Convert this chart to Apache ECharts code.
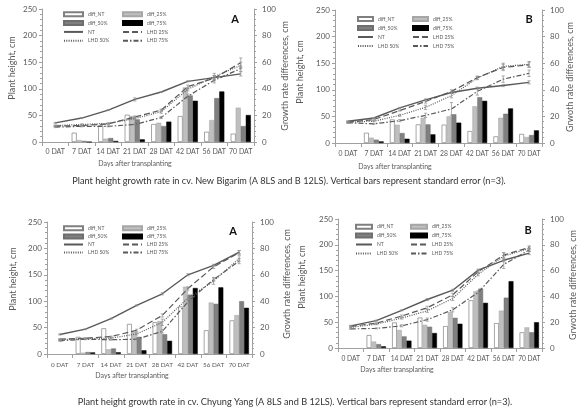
<!DOCTYPE html>
<html><head><meta charset="utf-8">
<script src="https://cdn.jsdelivr.net/npm/echarts@6/dist/echarts.min.js"></script>
<style>html,body{margin:0;padding:0;background:#fff}#c{width:580px;height:416px}</style>
</head><body><div id="c"></div>
<script>
// ---- data ----
const categories = ['0 DAT','7 DAT','14 DAT','21 DAT','28 DAT','42 DAT','56 DAT','70 DAT'];
const barNames = ['diff_NT','diff_25%','diff_50%','diff_75%'];
const lineNames = ['NT','LHD 25%','LHD 50%','LHD 75%'];
const leftTicks = [0,50,100,150,200,250];
const rightTicks = [0,20,40,60,80,100];

// New Bigarim, A (8LS)
const nbA_diffNT = [null, 7, 12.5, 20.5, 13.5, 19.5, 7.7, 6.3];
const nbA_diff25 = [null, 1.5, 2.5, 19.5, 14.5, 41, 16.5, 25.8];
const nbA_diff50 = [null, 0.8, 3, 17, 12, 35, 33, 12];
const nbA_diff75 = [null, 0, 0.8, 2, 15.3, 31, 38, 20.3];
const nbA_NT  = [36, 45, 60, 80, 94, 114, 121, 128];
const nbA_L25 = [30, 31, 34, 47, 60, 104, 120, 149];
const nbA_L50 = [31, 33, 35, 44, 57, 99, 123, 144];
const nbA_L75 = [28, 29.5, 29.5, 33, 46, 86, 116, 138];
// standard errors of the lines (plant height, cm)
const nbA_NT_se  = [1, 1, 1, 3, 1, 1, 3, 4];
const nbA_L25_se = [1, 1, 1, 2, 2, 3, 5, 9];
const nbA_L50_se = [1, 1, 1, 2, 3, 3, 6, 6];
const nbA_L75_se = [1, 1, 1, 1, 2, 4, 5, 5];

// New Bigarim, B (12LS)
const nbB_diffNT = [null, 7.7, 17.7, 14, 13.8, 9, 5, 6.8];
const nbB_diff25 = [null, 4, 13.7, 19, 20, 27.6, 19, 4.5];
const nbB_diff50 = [null, 2.5, 7.5, 14, 21.6, 34.4, 22, 6];
const nbB_diff75 = [null, 1.2, 3.2, 6.5, 15.3, 31.7, 26, 9.5];
const nbB_NT  = [41, 47, 66, 81, 95, 103, 108, 114];
const nbB_L25 = [39, 44, 61, 78, 97, 123, 142, 147];
const nbB_L50 = [39, 41, 52, 67, 89, 122, 144, 148];
const nbB_L75 = [38, 36, 42, 52, 64, 97, 120, 131];
const nbB_NT_se  = [1, 1, 1, 2, 2, 2, 2, 3];
const nbB_L25_se = [1, 1, 1, 3, 3, 3, 6, 5];
const nbB_L50_se = [1, 1, 2, 4, 4, 3, 6, 5];
const nbB_L75_se = [1, 1, 2, 4, 12, 7, 6, 6];

// Chyung Yang, A (8LS)
const cyA_diffNT = [null, 13, 19.5, 22.8, 24, 36, 18, 25.5];
const cyA_diff25 = [null, 1, 3.6, 17, 25, 51, 39, 29.5];
const cyA_diff50 = [null, 1.5, 4.2, 13, 15, 45, 38, 40];
const cyA_diff75 = [null, 1.2, 1.3, 2.8, 10, 50, 50.5, 35];
const cyA_NT  = [37, 47, 67, 92, 114, 150, 168, 193];
const cyA_L25 = [28, 30, 33, 45, 73, 124, 165, 192];
const cyA_L50 = [27, 29, 30, 38, 60, 106, 138, 181];
const cyA_L75 = [25, 28, 27, 28, 43, 99, 141, 176];
const cyA_NT_se  = [1, 1, 1, 1, 2, 2, 2, 3];
const cyA_L25_se = [1, 1, 1, 2, 3, 3, 3, 4];
const cyA_L50_se = [1, 1, 1, 2, 6, 4, 6, 5];
const cyA_L75_se = [1, 1, 1, 1, 3, 4, 4, 5];

// Chyung Yang, B (12LS)
const cyB_diffNT = [null, 10, 19.8, 23.6, 17, 37, 19.3, 12.2];
const cyB_diff25 = [null, 5, 14, 18, 27.9, 44, 29, 16];
const cyB_diff50 = [null, 3, 9, 16.5, 23.4, 46, 39, 12.2];
const cyB_diff75 = [null, 1.3, 5.7, 11.6, 18.8, 35, 51.8, 20];
const cyB_NT  = [43, 53, 73, 94, 112, 151, 170, 184];
const cyB_L25 = [42, 48, 62, 78, 103, 148, 180, 195];
const cyB_L50 = [40, 46, 58, 72, 96, 143, 178, 193];
const cyB_L75 = [37, 38, 43, 55, 74, 108, 162, 190];
const cyB_NT_se  = [1, 1, 1, 2, 2, 2, 3, 3];
const cyB_L25_se = [1, 1, 2, 3, 3, 3, 5, 3];
const cyB_L50_se = [1, 1, 2, 3, 4, 3, 6, 3];
const cyB_L75_se = [1, 1, 2, 3, 4, 3, 8, 3];

const captionTop = 'Plant height growth rate in cv. New Bigarim (A 8LS and B 12LS). Vertical bars represent standard error (n=3).';
const captionBottom = 'Plant height growth rate in cv. Chyung Yang (A 8LS and B 12LS). Vertical bars represent standard error (n=3).';

// ---- layout / style ----
const FONT = 'Lato, "Liberation Sans", sans-serif';
const GREY = '#595959';
const AXIS = '#a0a0a0';
const panels = [
  {letter:'A', rightTitle:'Growth rate differences, cm',
   grid:{left:42, top:9, width:212, height:133},
   bars:[nbA_diffNT,nbA_diff25,nbA_diff50,nbA_diff75], lines:[nbA_NT,nbA_L25,nbA_L50,nbA_L75],
   errs:[nbA_NT_se,nbA_L25_se,nbA_L50_se,nbA_L75_se],
   catFont:7, catMargin:6, letterPos:[235,19], ltitle:[12,68], rtitle:[285,76], xtitle:[135,164],
   leg:{x1:63, x2:122, top:11.3, pitch:8.8, iw:19}},
  {letter:'B', rightTitle:'Grwoth rate differences, cm',
   grid:{left:335, top:10, width:207, height:133},
   bars:[nbB_diffNT,nbB_diff25,nbB_diff50,nbB_diff75], lines:[nbB_NT,nbB_L25,nbB_L50,nbB_L75],
   errs:[nbB_NT_se,nbB_L25_se,nbB_L50_se,nbB_L75_se],
   catFont:6.8, catMargin:7, letterPos:[529,19], ltitle:[300,72], rtitle:[570,77], xtitle:[395,167],
   leg:{x1:357, x2:412, top:16, pitch:9, iw:15}},
  {letter:'A', rightTitle:'Growth rate differences, cm',
   grid:{left:47, top:222, width:205, height:132},
   bars:[cyA_diffNT,cyA_diff25,cyA_diff50,cyA_diff75], lines:[cyA_NT,cyA_L25,cyA_L50,cyA_L75],
   errs:[cyA_NT_se,cyA_L25_se,cyA_L50_se,cyA_L75_se],
   catFont:6.3, catMargin:8, letterPos:[233,231], ltitle:[13,279], rtitle:[287,284], xtitle:[132,376],
   leg:{x1:63, x2:122, top:225.3, pitch:8.1, iw:19}},
  {letter:'B', rightTitle:'Grwoth rate differences, cm',
   grid:{left:338, top:219, width:204, height:129},
   bars:[cyB_diffNT,cyB_diff25,cyB_diff50,cyB_diff75], lines:[cyB_NT,cyB_L25,cyB_L50,cyB_L75],
   errs:[cyB_NT_se,cyB_L25_se,cyB_L50_se,cyB_L75_se],
   catFont:6.6, catMargin:7, letterPos:[528,230], ltitle:[302,277], rtitle:[573,285], xtitle:[397,370],
   leg:{x1:355, x2:410, top:223.7, pitch:8.9, iw:16}}
];
const barStyles = [
  {color:'#ffffff', borderColor:'#7f7f7f', borderWidth:0.7},
  {color:'#bfbfbf', borderColor:'#a6a6a6', borderWidth:0.5},
  {color:'#808080', borderColor:'#6e6e6e', borderWidth:0.5},
  {color:'#000000', borderColor:'#000000', borderWidth:0.5}
];
const lineStyles = [
  {width:1.4, type:'solid'},
  {width:1.2, type:[6,3]},
  {width:1.2, type:[1,1.3]},
  {width:1.2, type:[5,2,1.5,2]}
];
const hiddenSymbol = {color:'rgba(0,0,0,0)', borderColor:'rgba(0,0,0,0)', borderWidth:0, opacity:0};

function renderErr(params, api) {
  const x = api.value(0), y = api.value(1), e = api.value(2);
  const hi = api.coord([x, y + e]), lo = api.coord([x, y - e]);
  const c = 1.6;
  const st = {stroke:'#8c8c8c', lineWidth:0.7, fill:null};
  return {type:'group', children:[
    {type:'line', shape:{x1:hi[0], y1:hi[1], x2:lo[0], y2:lo[1]}, style:st},
    {type:'line', shape:{x1:hi[0]-c, y1:hi[1], x2:hi[0]+c, y2:hi[1]}, style:st},
    {type:'line', shape:{x1:lo[0]-c, y1:lo[1], x2:lo[0]+c, y2:lo[1]}, style:st}
  ]};
}

const grid = [], xAxis = [], yAxis = [], series = [], legend = [], graphic = [];
panels.forEach((p, i) => {
  grid.push(Object.assign({outerBoundsMode:'none', containLabel:false}, p.grid));
  xAxis.push({
    type:'category', gridIndex:i, data:categories, boundaryGap:true,
    axisLine:{lineStyle:{color:AXIS, width:1}},
    axisTick:{show:true, length:4, lineStyle:{color:AXIS}},
    axisLabel:{fontSize:p.catFont, color:GREY, fontFamily:FONT, margin:p.catMargin, interval:0, hideOverlap:false}
  });
  yAxis.push({
    type:'value', gridIndex:i, min:leftTicks[0], max:leftTicks[leftTicks.length-1], interval:leftTicks[1]-leftTicks[0],
    position:'left',
    axisLine:{show:true, lineStyle:{color:AXIS}},
    axisTick:{show:true, length:3, lineStyle:{color:AXIS}},
    minorTick:{show:true, splitNumber:5, length:2, lineStyle:{color:AXIS}},
    splitLine:{show:false},
    axisLabel:{fontSize:8, color:GREY, fontFamily:FONT, margin:5}
  });
  yAxis.push({
    type:'value', gridIndex:i, min:rightTicks[0], max:rightTicks[rightTicks.length-1], interval:rightTicks[1]-rightTicks[0],
    position:'right',
    axisLine:{show:true, lineStyle:{color:AXIS}},
    axisTick:{show:true, length:3, lineStyle:{color:AXIS}},
    minorTick:{show:true, splitNumber:5, length:2, lineStyle:{color:AXIS}},
    splitLine:{show:false},
    axisLabel:{fontSize:8, color:GREY, fontFamily:FONT, margin:8}
  });
  p.bars.forEach((d, k) => {
    series.push({
      type:'bar', name:barNames[k], xAxisIndex:i, yAxisIndex:2*i+1, data:d,
      barGap:'0%', barCategoryGap:'24%', itemStyle:barStyles[k], z:2, silent:true
    });
  });
  p.lines.forEach((d, k) => {
    series.push({
      type:'line', name:lineNames[k], xAxisIndex:i, yAxisIndex:2*i, data:d,
      symbol:'none', lineStyle:Object.assign({color:GREY}, lineStyles[k]), itemStyle:{color:GREY}, z:3, silent:true
    });
    series.push({
      type:'custom', name:lineNames[k] + ' SE', xAxisIndex:i, yAxisIndex:2*i,
      data:d.map((v, j) => [j, v, p.errs[k][j]]), renderItem:renderErr, z:4, silent:true
    });
  });
  const L = p.leg, rowH = 6;
  const legBase = {orient:'vertical', itemWidth:L.iw, itemHeight:4, itemGap:L.pitch-rowH, padding:0, top:L.top,
    textStyle:{fontSize:5, lineHeight:rowH, color:GREY, fontFamily:FONT}, selectedMode:false};
  const lineItem = n => ({name:n, itemStyle:hiddenSymbol});
  legend.push(Object.assign({}, legBase, {left:L.x1, data:[{name:barNames[0],icon:'rect'},{name:barNames[2],icon:'rect'},lineItem(lineNames[0]),lineItem(lineNames[2])]}));
  legend.push(Object.assign({}, legBase, {left:L.x2, data:[{name:barNames[1],icon:'rect'},{name:barNames[3],icon:'rect'},lineItem(lineNames[1]),lineItem(lineNames[3])]}));

  graphic.push({type:'text', x:p.letterPos[0], y:p.letterPos[1],
    style:{text:p.letter, fill:'#111', font:'bold 11px '+FONT, textAlign:'center', textVerticalAlign:'middle', align:'center', verticalAlign:'middle'}});
  graphic.push({type:'text', x:p.ltitle[0], y:p.ltitle[1], rotation:Math.PI/2,
    style:{text:'Plant height, cm', fill:GREY, font:'9px '+FONT, textAlign:'center', textVerticalAlign:'middle', align:'center', verticalAlign:'middle'}});
  graphic.push({type:'text', x:p.rtitle[0], y:p.rtitle[1], rotation:Math.PI/2,
    style:{text:p.rightTitle, fill:GREY, font:'9px '+FONT, textAlign:'center', textVerticalAlign:'middle', align:'center', verticalAlign:'middle'}});
  graphic.push({type:'text', x:p.xtitle[0], y:p.xtitle[1],
    style:{text:'Days after transplanting', fill:GREY, font:'7px '+FONT, textAlign:'center', textVerticalAlign:'middle', align:'center', verticalAlign:'middle'}});
});
graphic.push({type:'text', x:289, y:181,
  style:{text:captionTop, fill:'#333', font:'9.2px '+FONT, textAlign:'center', textVerticalAlign:'middle', align:'center', verticalAlign:'middle'}});
graphic.push({type:'text', x:295, y:402,
  style:{text:captionBottom, fill:'#333', font:'9.2px '+FONT, textAlign:'center', textVerticalAlign:'middle', align:'center', verticalAlign:'middle'}});

const chart = echarts.init(document.getElementById('c'), null, {renderer:'canvas', width:580, height:416});
chart.setOption({
  animation:false, backgroundColor:'#ffffff',
  textStyle:{fontFamily:FONT},
  grid, xAxis, yAxis, series, legend, graphic
});
</script></body></html>
